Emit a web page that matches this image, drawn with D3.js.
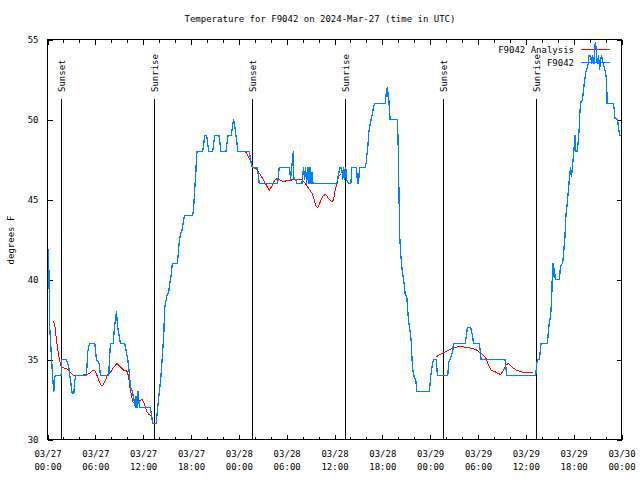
<!DOCTYPE html>
<html><head><meta charset="utf-8">
<script src="https://cdn.jsdelivr.net/npm/d3@7/dist/d3.min.js"></script>
<style>
body{margin:0;background:#fff}
svg{display:block}
text{font-family:"DejaVu Sans Mono","Liberation Mono",monospace;font-size:9px;fill:#000}
</style>
</head><body>
<svg id="c" width="640" height="480"></svg>
<script>
// ---------- data ----------
const chartTitle = "Temperature for F9042 on 2024-Mar-27 (time in UTC)";
const yAxisLabel = "degrees F";
const seriesNames = ["F9042 Analysis", "F9042"];
const seriesColors = ["#ff0000", "#0080ff"];

// x in hours since 2024-03-27 00:00 UTC
const xTickHours = [0, 6, 12, 18, 24, 30, 36, 42, 48, 54, 60, 66, 72];
const xTickDates = ["03/27","03/27","03/27","03/27","03/28","03/28","03/28","03/28","03/29","03/29","03/29","03/29","03/30"];
const xTickTimes = ["00:00","06:00","12:00","18:00","00:00","06:00","12:00","18:00","00:00","06:00","12:00","18:00","00:00"];
const xMinorHours = d3.range(0, 73, 2);
const yTicks = [30, 35, 40, 45, 50, 55];

const sunHours  = [1.72, 13.32, 25.65, 37.26, 49.66, 61.3];
const sunLabels = ["Sunset", "Sunrise", "Sunset", "Sunrise", "Sunset", "Sunrise"];

// observed F9042
const obsHours = [0.13,0.29,0.63,0.79,0.92,1.04,1.71,1.75,2.38,2.67,2.88,3.09,3.30,3.43,3.55,4.89,5.05,5.26,5.93,6.14,6.47,6.64,7.69,7.77,7.9,8.23,8.4,8.65,8.81,9.15,9.69,10.07,10.23,10.4,10.65,11.03,11.11,11.24,11.36,11.53,12.91,13.2,13.62,13.82,14.24,14.58,14.70,14.87,14.99,15.2,15.33,15.49,15.66,16.25,16.37,16.5,16.67,16.88,17.08,17.2,18.21,18.34,18.46,18.59,18.67,18.75,19.47,19.6,19.72,19.97,20.1,20.22,20.72,20.85,20.97,21.51,21.64,21.76,22.39,22.51,22.64,23.06,23.18,23.35,23.52,23.64,23.77,23.89,25.31,25.52,25.69,26.27,26.4,26.56,28.86,29.07,30.37,30.49,30.62,30.74,30.83,30.91,31.16,31.29,31.91,32.04,32.12,32.24,32.37,32.5,32.67,32.79,32.92,33.04,33.17,33.3,36.3,36.5,36.71,36.9,37.03,37.16,37.28,37.41,37.53,37.76,38.05,38.18,38.76,38.89,39.01,39.14,39.85,39.97,40.06,40.18,40.31,40.48,40.6,40.77,40.9,41.1,42.36,42.48,42.61,42.69,42.77,42.9,42.98,43.9,43.99,44.11,44.2,44.32,44.44,44.57,44.73,44.86,45.07,45.28,45.49,45.61,45.78,45.99,46.2,46.32,47.91,48.08,48.29,48.41,48.75,48.92,50.21,50.33,50.5,50.83,50.91,52.38,52.51,52.67,53.09,53.34,53.43,54.18,54.39,57.39,57.6,61.24,61.36,61.45,61.65,61.77,61.9,62.7,62.82,62.94,63.11,63.24,63.32,63.41,63.49,63.57,63.7,64.2,64.33,64.45,64.62,64.74,64.91,65.03,65.12,65.33,65.41,65.54,65.62,65.7,65.79,65.95,66.08,66.16,66.29,66.46,66.58,66.71,66.79,66.92,67.08,67.21,67.33,67.5,67.63,67.84,67.92,68.13,68.25,68.38,68.54,68.71,68.83,68.96,69.12,69.25,69.37,69.5,69.71,69.92,70.12,70.2,70.97,71.1,71.18,71.51,71.6,71.68,71.81,71.99];
const obsTemps = [41.9,36.9,34,33,33.9,34,34,35,35,34.5,33.7,32.9,32.9,33.7,34,34,35.5,36,36,35,34.75,34,34,35,36,36,37,38,37,36,36,35,34.3,33.3,33,32,32.7,32,33,32,32,31,31,32,34,36.5,38.2,38.7,39,39.2,39.75,40.2,41,41,41.4,42.25,42.8,43.1,43.75,44,44,44.5,45.6,46.5,47.45,48,48,48.5,49,49,48.5,48,48,48.5,49,49,48.5,48,48,48.5,49,49,49.5,50,49.5,49,48.5,48,48,47.35,47,47,46.7,46,46,47,47,46.25,47,47.45,48,46.25,46.25,46,46,46.7,47,46.25,47,46,47,46,47,46,46.7,46,46,46.6,47,47,46.25,47,46.25,47,46.25,46,46,47,47,46,46,47,47,47.3,47.77,48.3,49.2,49.75,50,50.4,50.8,51,51,51.6,52,51.4,51.7,50.5,50,50,48.3,44.75,42.5,41.5,40.8,40.3,39.75,39.1,38.9,37.46,36.7,36.2,34.5,33.9,33.7,33,33,34,34.75,35,35,34,34,34.85,35,35.5,36,36,36.4,37,37,36.4,36,36,35,35,34,34,34.75,35,35,35.3,36,36,36.7,37.25,37.77,38.7,40.2,41,40.16,40.7,40,40,40.7,40.94,41,41.7,42.7,44,44.4,45.5,46,46.7,47.04,46.4,46.7,47.6,48.4,49,48,48,48.7,49.5,50.58,51.1,51.2,51.7,52.25,52.9,53.1,53.5,54,54,53.5,54,53.5,54.85,54.4,53.5,54,53.1,53.7,54,53.5,53.1,52.56,51,51,50.6,50.06,50,49.6,49.3,49,49];

// analysis F9042 (null = gap)
const anaHours = [0.67,0.88,1.0,1.13,1.3,1.5,1.71,2.46,2.88,3.3,3.51,4.14,4.76,5.18,5.6,5.93,6.14,6.43,6.72,6.98,7.27,7.48,7.9,8.23,8.73,9.15,9.57,9.98,10.19,10.32,10.53,10.74,11.24,11.65,11.86,12.07,12.28,12.49,12.7,13.03,
  18,
  24.81,25.1,25.44,25.73,26.19,26.48,26.77,27.11,27.52,27.82,28.15,28.49,28.78,29.07,29.62,30.04,30.45,30.87,31.91,32.33,32.75,33.17,33.46,33.71,33.92,34.21,34.54,34.88,35.25,35.67,35.88,36.09,36.3,36.5,36.71,36.85,
  42,
  48.75,49.04,49.46,49.88,50.29,50.71,51.13,51.68,52.18,52.68,53.22,53.76,54.26,54.68,55.01,55.31,55.64,56.14,56.56,56.85,57.18,57.48,57.81,58.15,58.52,58.86,59.27,59.61,60.11,60.85];
const anaTemps = [37.4,37.25,36.8,36.2,35.6,35,34.54,34.4,34.2,34,33.98,34,34.06,34.1,34.3,34.33,34.1,33.7,33.4,33.4,33.7,34,34.2,34.48,34.75,34.54,34.33,34.27,33.9,33.3,32.77,32.3,32.3,32.46,32.5,32.35,32.04,31.73,31.58,31.5,
  null,
  48,47.8,47.4,47.05,46.9,46.7,46.5,46.2,45.83,45.58,45.83,46.2,46.3,46.25,46.1,46.2,46.2,46.25,46.25,46,45.7,45.4,44.96,44.54,44.5,44.85,45.2,45.33,45.06,44.85,44.96,45.58,46,46.4,46.56,46.55,
  null,
  35.16,35.27,35.37,35.48,35.58,35.69,35.75,35.83,35.79,35.73,35.71,35.62,35.41,35.27,35.06,34.64,34.33,34.23,34.12,34.06,34.33,34.64,34.75,34.58,34.43,34.33,34.27,34.19,34.19,34.19];

// ---------- drawing ----------
const svg = d3.select("#c");
const x = d3.scaleLinear().domain([0, 72]).range([47.5, 621.5]);
const y = d3.scaleLinear().domain([30, 55]).range([439.5, 39.5]);

// title
svg.append("text").attr("x", 320).attr("y", 22).attr("text-anchor", "middle").text(chartTitle);
// y label
svg.append("text").attr("transform", "translate(11,240) rotate(-90)")
  .attr("text-anchor", "middle").attr("dy", "0.35em").text(yAxisLabel);

const crisp = g => g.attr("shape-rendering", "crispEdges");

// bottom axis with labels
const gb = svg.append("g").attr("transform", `translate(0,${y(30)})`)
  .call(d3.axisBottom(x).tickValues(xTickHours).tickSize(-5).tickSizeOuter(0).tickPadding(11).tickFormat(""))
  .call(crisp);
gb.selectAll(".tick").each(function (d, i) {
  const t = d3.select(this).select("text").attr("dy", null).attr("y", 11);
  t.append("tspan").attr("x", 0).attr("dy", "0.71em").text(xTickDates[i]);
  t.append("tspan").attr("x", 0).attr("dy", "13").text(xTickTimes[i]);
});
svg.append("g").attr("transform", `translate(0,${y(30)})`)
  .call(d3.axisBottom(x).tickValues(xMinorHours).tickSize(-3).tickSizeOuter(0).tickFormat("")).call(crisp);
svg.append("g").attr("transform", `translate(0,${y(55)})`)
  .call(d3.axisTop(x).tickValues(xTickHours).tickSize(-5).tickSizeOuter(0).tickFormat("")).call(crisp);
svg.append("g").attr("transform", `translate(0,${y(55)})`)
  .call(d3.axisTop(x).tickValues(xMinorHours).tickSize(-3).tickSizeOuter(0).tickFormat("")).call(crisp);
svg.append("g").attr("transform", `translate(${x(0)},0)`)
  .call(d3.axisLeft(y).tickValues(yTicks).tickSize(-5).tickSizeOuter(0).tickPadding(9)).call(crisp);
svg.append("g").attr("transform", `translate(${x(72)},0)`)
  .call(d3.axisRight(y).tickValues(yTicks).tickSize(-5).tickSizeOuter(0).tickFormat("")).call(crisp);
svg.selectAll(".domain").remove();
svg.selectAll(".tick line").attr("stroke", "#000");
svg.selectAll(".tick text").attr("fill", "#000").attr("font-family", null).attr("font-size", null);
svg.selectAll("g").attr("font-family", null).attr("font-size", null);

// frame
svg.append("rect").attr("x", x(0)).attr("y", y(55)).attr("width", x(72) - x(0)).attr("height", y(30) - y(55))
  .attr("fill", "none").attr("stroke", "#000").call(crisp);

// sunrise / sunset lines
const sg = svg.append("g");
sunHours.forEach((h, i) => {
  const xx = Math.round(x(h)) + 0.5;
  sg.append("line").attr("x1", xx).attr("x2", xx).attr("y1", 99).attr("y2", y(30))
    .attr("stroke", "#000").call(crisp);
  sg.append("text").attr("transform", `translate(${xx},92) rotate(-90)`)
    .attr("text-anchor", "start").attr("dy", "0.35em").text(sunLabels[i]);
});

// legend
const lg = svg.append("g");
[0, 1].forEach(i => {
  const ly = 50 + i * 12.5;
  lg.append("text").attr("x", 574).attr("y", ly).attr("dy", "0.35em").attr("text-anchor", "end").text(seriesNames[i]);
  lg.append("line").attr("x1", 581).attr("x2", 610).attr("y1", Math.round(ly) - 0.5).attr("y2", Math.round(ly) - 0.5)
    .attr("stroke", seriesColors[i]).attr("stroke-width", 1.2).call(crisp);
});

// series
const line = d3.line().defined(d => d[1] != null).x(d => x(d[0])).y(d => y(d[1]));
svg.append("path").datum(anaHours.map((h, i) => [h, anaTemps[i]]))
  .attr("d", line).attr("fill", "none").attr("stroke", seriesColors[0]).attr("stroke-width", 1).call(crisp);
svg.append("path").datum(obsHours.map((h, i) => [h, obsTemps[i]]))
  .attr("d", line).attr("fill", "none").attr("stroke", seriesColors[1]).attr("stroke-width", 1.3).call(crisp);
</script>
</body></html>
